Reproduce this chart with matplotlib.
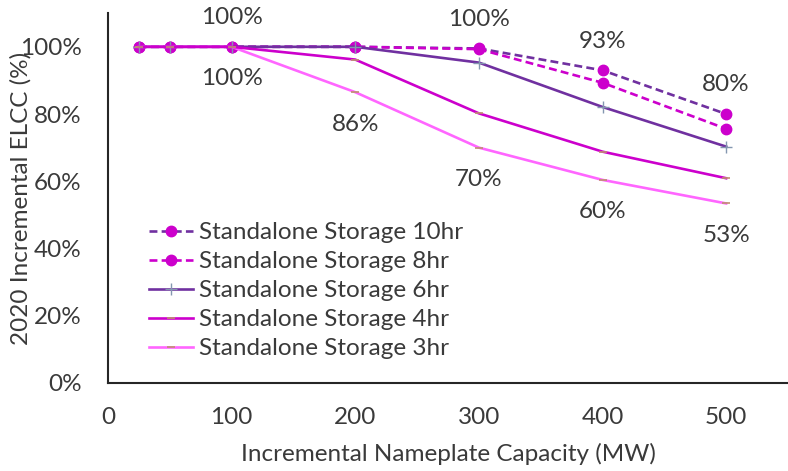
import matplotlib
matplotlib.use("Agg")
import matplotlib.pyplot as plt
from matplotlib.ticker import PercentFormatter

plt.rcParams['font.family'] = ['Lato', 'DejaVu Sans']

# Incremental nameplate capacity (MW)
capacity = [25, 50, 100, 200, 300, 400, 500]

# Incremental ELCC by storage duration
elcc_10hr = [1.00, 1.00, 1.00, 1.00, 0.995, 0.93, 0.80]
elcc_8hr = [1.00, 1.00, 1.00, 1.00, 0.993, 0.893, 0.756]
elcc_6hr = [1.00, 1.00, 1.00, 1.00, 0.953, 0.821, 0.703]
elcc_4hr = [1.00, 1.00, 1.00, 0.962, 0.802, 0.688, 0.609]
elcc_3hr = [1.00, 1.00, 1.00, 0.865, 0.70, 0.604, 0.534]

series_names = ["Standalone Storage 10hr", "Standalone Storage 8hr",
                "Standalone Storage 6hr", "Standalone Storage 4hr",
                "Standalone Storage 3hr"]

x_ticks = [0, 100, 200, 300, 400, 500]
y_ticks = [0, 0.2, 0.4, 0.6, 0.8, 1.0]

text_color = "#3A3A3A"
purple = "#7030A0"
magenta = "#CC00CC"
pink = "#FF66FF"
fs = 17.5

fig = plt.figure(figsize=(7.88, 4.71), dpi=100)
ax = fig.add_axes([0.137, 0.187, 0.863, 0.785])

l10, = ax.plot(capacity, elcc_10hr, color=purple, lw=1.9, ls=(0, (3, 1.6)),
               marker="o", ms=7.5, mfc=magenta, mec=magenta, zorder=2.0)
l8, = ax.plot(capacity, elcc_8hr, color=magenta, lw=1.9, ls=(0, (3, 1.6)),
              marker="o", ms=7.5, mfc=magenta, mec=magenta, zorder=2.1)
l6, = ax.plot(capacity, elcc_6hr, color=purple, lw=1.9,
              marker="+", ms=8, mec="#8497B0", mew=1.0, zorder=2.2)
l3, = ax.plot(capacity, elcc_3hr, color=pink, lw=1.9,
              marker="_", ms=6, mec="#C09070", mew=1.2, zorder=2.3)
l4, = ax.plot(capacity, elcc_4hr, color=magenta, lw=1.9,
              marker="_", ms=6, mec="#C09070", mew=1.2, zorder=2.4)

# Data labels: 10hr above the line, 3hr below it
for i in [2, 4, 5, 6]:
    ax.annotate(f"{elcc_10hr[i]:.0%}", (capacity[i], elcc_10hr[i]),
                xytext=(0, 21), textcoords="offset points",
                ha="center", va="center", fontsize=fs, color=text_color)
for i in [2, 3, 4, 5, 6]:
    ax.annotate(f"{elcc_3hr[i]:.0%}", (capacity[i], elcc_3hr[i]),
                xytext=(0, -23), textcoords="offset points",
                ha="center", va="center", fontsize=fs, color=text_color)

ax.set_xlim(0, 550)
ax.set_ylim(0, 1.1)
ax.set_xticks(x_ticks)
ax.set_yticks(y_ticks)
ax.yaxis.set_major_formatter(PercentFormatter(1.0, decimals=0))
ax.tick_params(axis="both", length=0, labelsize=fs, labelcolor=text_color)
ax.tick_params(axis="x", pad=17)
ax.tick_params(axis="y", pad=19)

for side in ["top", "right"]:
    ax.spines[side].set_visible(False)
for side in ["left", "bottom"]:
    ax.spines[side].set_color("#262626")
    ax.spines[side].set_linewidth(1.5)

ax.set_xlabel("Incremental Nameplate Capacity (MW)", fontsize=fs,
              color=text_color)
ax.set_ylabel("2020 Incremental ELCC (%)", fontsize=fs, color=text_color)
ax.xaxis.set_label_coords(0.5, -0.163)
ax.yaxis.set_label_coords(-0.112, 0.5)

leg = ax.legend([l10, l8, l6, l4, l3], series_names, frameon=False,
                loc="upper left", bbox_to_anchor=(0.06, 0.435),
                fontsize=fs, handlelength=1.8, handletextpad=0.25,
                labelspacing=0.33, borderpad=0.0, borderaxespad=0.0)
for t in leg.get_texts():
    t.set_color(text_color)

fig.savefig("out.png", dpi=100)
